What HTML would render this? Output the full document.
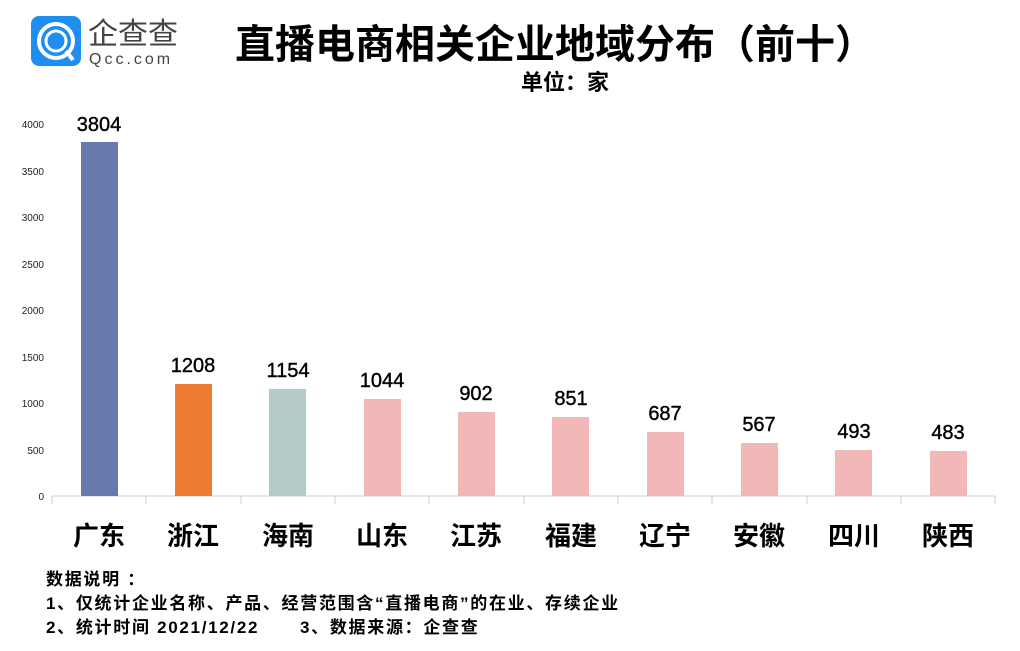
<!DOCTYPE html>
<html><head><meta charset="utf-8"><style>
body{margin:0;background:#fff;width:1020px;height:646px;overflow:hidden;font-family:"Liberation Sans","Noto Sans CJK SC",sans-serif;}
</style></head><body>
<svg width="1020" height="646" xmlns="http://www.w3.org/2000/svg" font-family="Liberation Sans, Noto Sans CJK SC, sans-serif">
<rect x="31" y="16" width="50" height="50" rx="8" fill="#1e8ef0"/>
<circle cx="56" cy="41" r="17" fill="none" stroke="#fff" stroke-width="4"/>
<circle cx="56" cy="41" r="10" fill="none" stroke="#fff" stroke-width="3"/>
<line x1="66" y1="51" x2="73" y2="60" stroke="#fff" stroke-width="4"/>
<text x="88" y="44" font-size="30" fill="#444">企查查</text>
<text x="89" y="64" font-size="16" fill="#444" letter-spacing="3">Qcc.com</text>
<text x="555" y="58" font-size="40" font-weight="bold" text-anchor="middle" fill="#000">直播电商相关企业地域分布（前十）</text>
<text x="565" y="90" font-size="22" font-weight="bold" text-anchor="middle" fill="#000">单位：家</text>
<g font-size="10" fill="#222" text-anchor="end">
<text x="44" y="128">4000</text><text x="44" y="175">3500</text><text x="44" y="221">3000</text><text x="44" y="268">2500</text><text x="44" y="314">2000</text><text x="44" y="361">1500</text><text x="44" y="407">1000</text><text x="44" y="454">500</text><text x="44" y="500">0</text>
</g>
<line x1="52" y1="496" x2="995" y2="496" stroke="#ccc"/>
<g stroke="#ccc">
<line x1="52" y1="496" x2="52" y2="504"/><line x1="146" y1="496" x2="146" y2="504"/><line x1="241" y1="496" x2="241" y2="504"/><line x1="335" y1="496" x2="335" y2="504"/><line x1="429" y1="496" x2="429" y2="504"/><line x1="524" y1="496" x2="524" y2="504"/><line x1="618" y1="496" x2="618" y2="504"/><line x1="712" y1="496" x2="712" y2="504"/><line x1="807" y1="496" x2="807" y2="504"/><line x1="901" y1="496" x2="901" y2="504"/><line x1="995" y1="496" x2="995" y2="504"/>
</g>
<rect x="81" y="142" width="37" height="354" fill="#6779ad"/>
<rect x="175" y="384" width="37" height="112" fill="#ed7d31"/>
<rect x="269" y="389" width="37" height="107" fill="#b4cac6"/>
<rect x="364" y="399" width="37" height="97" fill="#f2b8b8"/>
<rect x="458" y="412" width="37" height="84" fill="#f2b8b8"/>
<rect x="552" y="417" width="37" height="79" fill="#f2b8b8"/>
<rect x="647" y="432" width="37" height="64" fill="#f2b8b8"/>
<rect x="741" y="443" width="37" height="53" fill="#f2b8b8"/>
<rect x="835" y="450" width="37" height="46" fill="#f2b8b8"/>
<rect x="930" y="451" width="37" height="45" fill="#f2b8b8"/>
<g font-size="20" text-anchor="middle" fill="#000" stroke="#000" stroke-width="0.4">
<text x="99" y="131">3804</text><text x="193" y="372">1208</text><text x="288" y="377">1154</text><text x="382" y="387">1044</text><text x="476" y="400">902</text><text x="571" y="405">851</text><text x="665" y="420">687</text><text x="759" y="431">567</text><text x="854" y="438">493</text><text x="948" y="439">483</text>
</g>
<g font-size="26" font-weight="bold" text-anchor="middle" fill="#000">
<text x="99" y="545">广东</text><text x="193" y="545">浙江</text><text x="288" y="545">海南</text><text x="382" y="545">山东</text><text x="476" y="545">江苏</text><text x="571" y="545">福建</text><text x="665" y="545">辽宁</text><text x="759" y="545">安徽</text><text x="854" y="545">四川</text><text x="948" y="545">陕西</text>
</g>
<g font-size="17" font-weight="bold" fill="#000" letter-spacing="1.7">
<text x="46" y="585">数据说明 ：</text>
<text x="46" y="609">1、仅统计企业名称、产品、经营范围含“直播电商”的在业、存续企业</text>
<text x="46" y="633">2、统计时间 2021/12/22</text>
<text x="300" y="633">3、数据来源：企查查</text>
</g>
</svg>
</body></html>
